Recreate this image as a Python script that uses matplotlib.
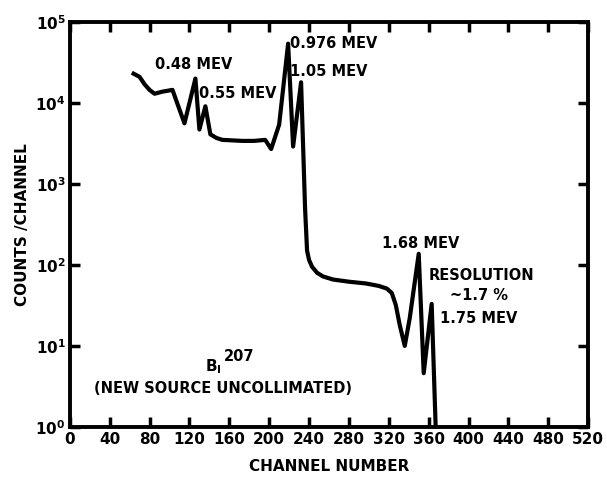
import numpy as np
import matplotlib
matplotlib.use("Agg")
import matplotlib.pyplot as plt

# spectrum
channel = [64, 70, 75, 80, 85, 93, 103, 109, 115, 126, 130, 136, 141, 147, 153, 163,
           173, 185, 196, 202, 210, 219, 224, 232, 236, 238, 240, 243, 248, 254, 264, 280,
           297, 310, 318, 323, 327, 331, 336, 341, 350, 355, 363, 367]
counts = [2.3e4, 2.1e4, 1.7e4, 1.45e4, 1.3e4, 1.38e4, 1.45e4, 9.0e3, 5.6e3, 2.0e4,
          4.7e3, 9.1e3, 4.1e3, 3.7e3, 3.5e3, 3.45e3, 3.4e3, 3.4e3, 3.5e3, 2.7e3,
          5.4e3, 5.4e4, 2.9e3, 1.8e4, 5.0e2, 1.5e2, 1.15e2, 95, 80, 72, 66, 62,
          59, 55, 51, 45, 32, 18, 10, 22, 137, 4.6, 33, 1.0]

xticks = list(range(0, 521, 40))
peak_labels = [("0.48 MEV", 85, 3.0e4), ("0.55 MEV", 130, 1.3e4),
               ("0.976 MEV", 221, 5.4e4), ("1.05 MEV", 221, 2.45e4),
               ("1.68 MEV", 313, 1.85e2)]

plt.rcParams['font.family'] = ['DejaVu Sans']
plt.rcParams['font.weight'] = 'bold'

fig = plt.figure(figsize=(6.07, 4.78), dpi=100)
ax = fig.add_axes([0.115, 0.107, 0.854, 0.847])

ax.plot(channel, counts, color='black', lw=3, solid_joinstyle='round')

ax.set_yscale('log')
ax.set_xlim(0, 520)
ax.set_ylim(1, 1e5)
ax.set_xticks(xticks)
ax.set_xticklabels([str(t) for t in xticks], fontsize=10.5, fontweight='bold')
ax.minorticks_off()
ax.set_yticks([1, 10, 100, 1e3, 1e4, 1e5])
ax.tick_params(axis='both', direction='in', length=7, width=2.5,
               top=True, right=True, labelsize=11, pad=3)
ax.tick_params(axis='x', pad=4)
for sp in ax.spines.values():
    sp.set_linewidth(2.8)

ax.set_xlabel("CHANNEL NUMBER", fontsize=11, fontweight='bold', labelpad=8)
ax.set_ylabel("COUNTS /CHANNEL", fontsize=11, fontweight='bold', labelpad=4)

for txt, xv, yv in peak_labels:
    ax.text(xv, yv, txt, fontsize=10.5, fontweight='bold', va='center', ha='left')

ax.text(360, 74, "RESOLUTION", fontsize=10.5, fontweight='bold', va='center', ha='left')
ax.text(381, 42, "~1.7 %", fontsize=10.5, fontweight='bold', va='center', ha='left')
ax.text(371, 22, "1.75 MEV", fontsize=10.5, fontweight='bold', va='center', ha='left')

ax.text(136, 5.5, r"B$\mathregular{_I}$", fontsize=11, fontweight='bold', va='center', ha='left')
ax.text(155, 7.4, "207", fontsize=10.5, fontweight='bold', va='center', ha='left')
ax.text(24, 3.0, "(NEW SOURCE UNCOLLIMATED)", fontsize=10.5, fontweight='bold',
        va='center', ha='left')

fig.savefig("out.png", dpi=100)
